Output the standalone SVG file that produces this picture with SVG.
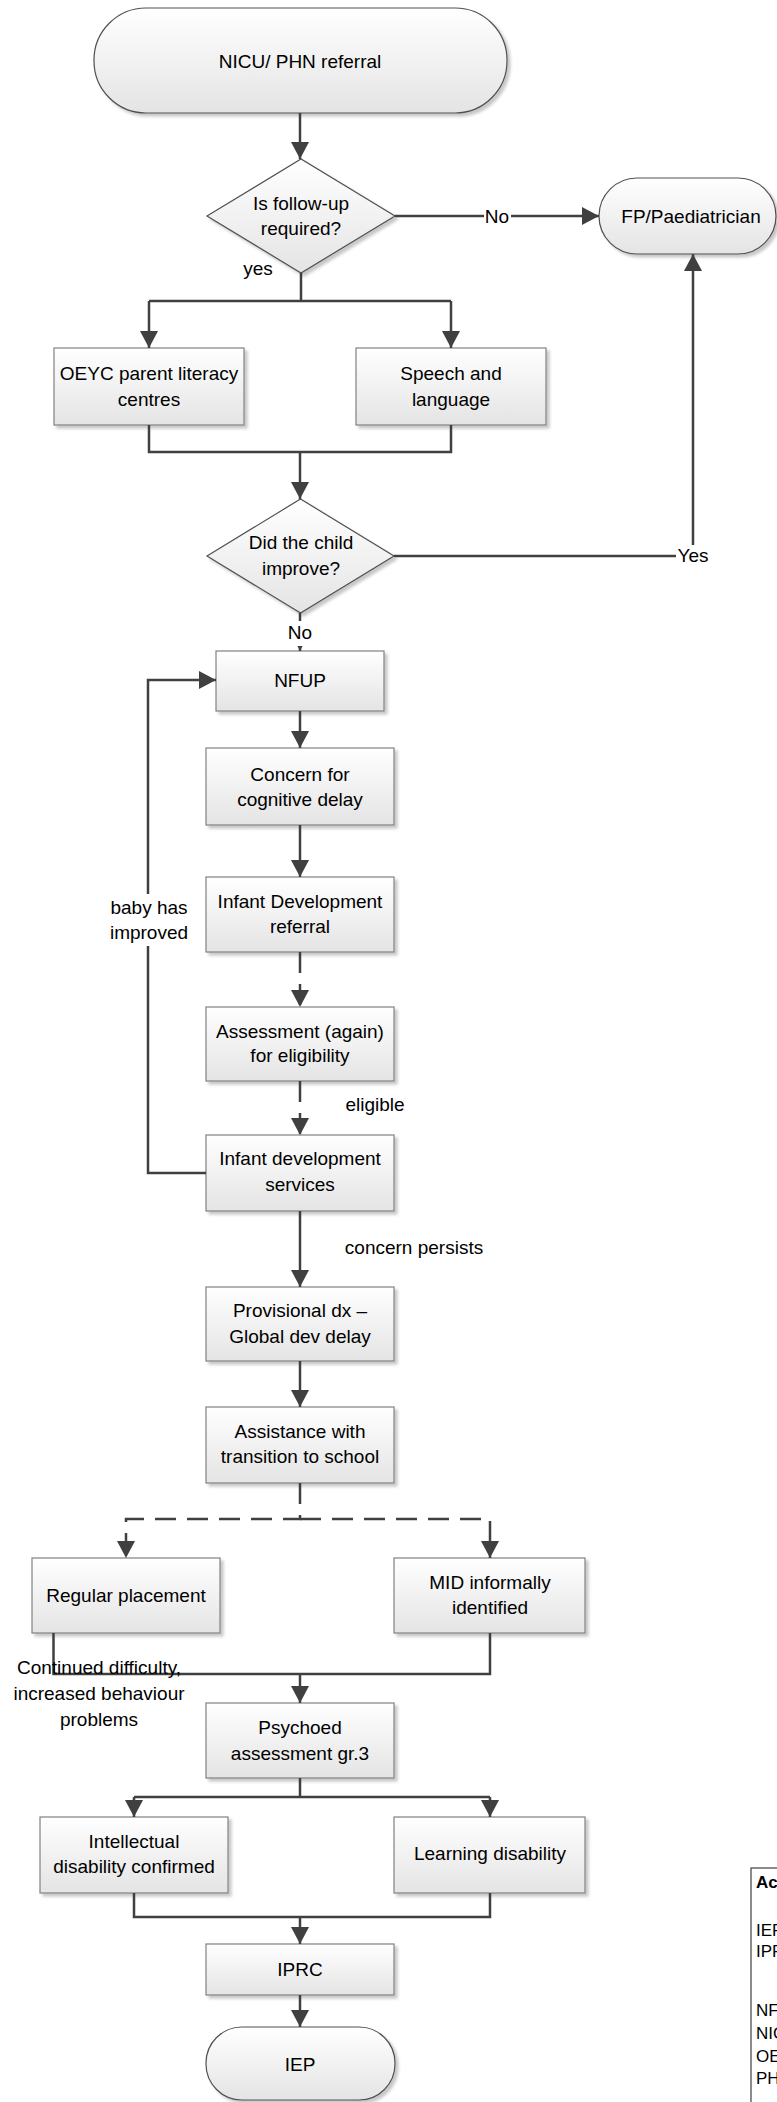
<svg xmlns="http://www.w3.org/2000/svg" width="777" height="2102" viewBox="0 0 777 2102">
<defs>
<linearGradient id="g" x1="0" y1="0" x2="0" y2="1">
<stop offset="0" stop-color="#ffffff"/>
<stop offset="1" stop-color="#e4e4e4"/>
</linearGradient>
<filter id="sh" x="-10%" y="-10%" width="130%" height="140%">
<feDropShadow dx="3" dy="3" stdDeviation="1.5" flood-color="#000" flood-opacity="0.22"/>
</filter>
<marker id="ah" markerUnits="userSpaceOnUse" markerWidth="17" markerHeight="18" refX="17" refY="9" orient="auto">
<path d="M0,0 L17,9 L0,18 z" fill="#404040"/>
</marker>
</defs>
<style>
.box{fill:url(#g);stroke:#808080;stroke-width:1.2;filter:url(#sh)}
.term{fill:url(#g);stroke:#505050;stroke-width:1.2;filter:url(#sh)}
.dia{fill:url(#g);stroke:#505050;stroke-width:1.2;filter:url(#sh)}
.t{font-family:"Liberation Sans",Arial,sans-serif;font-size:19px;text-anchor:middle;fill:#000}
.c{fill:none;stroke:#404040;stroke-width:2.5}
.a{marker-end:url(#ah)}
.d{stroke-dasharray:21 11}
.bg{fill:#fff}
.lg{font-family:"Liberation Sans",Arial,sans-serif;font-size:17px;fill:#000}
</style>
<rect width="777" height="2102" fill="#fff"/>

<g id="start">
<rect class="term" x="94" y="8" width="413" height="105" rx="52" ry="52"/>
<text class="t" x="300" y="68">NICU/ PHN referral</text>
</g>
<g id="followup">
<polygon class="dia" points="207,216 301,159 395,216 301,273"/>
<text class="t" x="301" y="210">Is follow-up</text>
<text class="t" x="301" y="235">required?</text>
</g>
<g id="fp">
<rect class="term" x="599" y="178" width="177" height="76" rx="38" ry="38"/>
<text class="t" x="691" y="223">FP/Paediatrician</text>
</g>
<g id="oeyc">
<rect class="box" x="54" y="348" width="190" height="77"/>
<text class="t" x="149" y="380">OEYC parent literacy</text>
<text class="t" x="149" y="406">centres</text>
</g>
<g id="speech">
<rect class="box" x="356" y="348" width="190" height="77"/>
<text class="t" x="451" y="380">Speech and</text>
<text class="t" x="451" y="406">language</text>
</g>
<g id="improve">
<polygon class="dia" points="207,556 300.5,499 394,556 300.5,613"/>
<text class="t" x="301" y="549">Did the child</text>
<text class="t" x="301" y="575">improve?</text>
</g>
<g id="nfup">
<rect class="box" x="216" y="651" width="168" height="60"/>
<text class="t" x="300" y="687">NFUP</text>
</g>
<g id="concern">
<rect class="box" x="206" y="748" width="188" height="77"/>
<text class="t" x="300" y="781">Concern for</text>
<text class="t" x="300" y="806">cognitive delay</text>
</g>
<g id="idref">
<rect class="box" x="206" y="877" width="188" height="75"/>
<text class="t" x="300" y="908">Infant Development</text>
<text class="t" x="300" y="933">referral</text>
</g>
<g id="assess">
<rect class="box" x="206" y="1007" width="188" height="74"/>
<text class="t" x="300" y="1038">Assessment (again)</text>
<text class="t" x="300" y="1062">for eligibility</text>
</g>
<g id="ids">
<rect class="box" x="206" y="1135" width="188" height="76"/>
<text class="t" x="300" y="1165">Infant development</text>
<text class="t" x="300" y="1191">services</text>
</g>
<g id="prov">
<rect class="box" x="206" y="1287" width="188" height="74"/>
<text class="t" x="300" y="1317">Provisional dx –</text>
<text class="t" x="300" y="1343">Global dev delay</text>
</g>
<g id="assist">
<rect class="box" x="206" y="1407" width="188" height="76"/>
<text class="t" x="300" y="1438">Assistance with</text>
<text class="t" x="300" y="1463">transition to school</text>
</g>
<g id="regular">
<rect class="box" x="32" y="1558" width="188" height="75"/>
<text class="t" x="126" y="1602">Regular placement</text>
</g>
<g id="mid">
<rect class="box" x="394" y="1558" width="191" height="75"/>
<text class="t" x="490" y="1589">MID informally</text>
<text class="t" x="490" y="1614">identified</text>
</g>
<g id="psychoed">
<rect class="box" x="206" y="1703" width="188" height="75"/>
<text class="t" x="300" y="1734">Psychoed</text>
<text class="t" x="300" y="1760">assessment gr.3</text>
</g>
<g id="intellectual">
<rect class="box" x="40" y="1817" width="188" height="76"/>
<text class="t" x="134" y="1848">Intellectual</text>
<text class="t" x="134" y="1873">disability confirmed</text>
</g>
<g id="learning">
<rect class="box" x="394" y="1817" width="191" height="76"/>
<text class="t" x="490" y="1860">Learning disability</text>
</g>
<g id="iprc">
<rect class="box" x="206" y="1944" width="188" height="51"/>
<text class="t" x="300" y="1976">IPRC</text>
</g>
<g id="iep">
<rect class="term" x="206" y="2027" width="189" height="73" rx="36" ry="36"/>
<text class="t" x="300" y="2071">IEP</text>
</g>
<g id="legend">
<rect x="751" y="1868" width="40" height="250" fill="#fff" stroke="#404040" stroke-width="1.2"/>
<text class="lg" x="756" y="1888" font-weight="bold">Ac</text>
<text class="lg" x="756" y="1936">IEP</text>
<text class="lg" x="756" y="1957">IPR</text>
<text class="lg" x="756" y="2016">NF</text>
<text class="lg" x="756" y="2039">NIC</text>
<text class="lg" x="756" y="2062">OE</text>
<text class="lg" x="756" y="2084">PH</text>
</g>

<g id="connectors">
<path class="c a" d="M300,113 V159"/>
<path class="c a" d="M395,216 H599"/>
<path class="c" d="M301,273 V301 M149,301 H451"/>
<path class="c a" d="M149,301 V348"/>
<path class="c a" d="M451,301 V348"/>
<path class="c" d="M149,425 V452 H451 V425"/>
<path class="c a" d="M300,452 V499"/>
<path class="c a" d="M394,556 H693 V254"/>
<path class="c a" d="M300,613 V651"/>
<path class="c a" d="M300,711 V748"/>
<path class="c a" d="M300,825 V877"/>
<path class="c a d" d="M300,952 V1007"/>
<path class="c a d" d="M300,1081 V1135"/>
<path class="c a" d="M206,1173 H148 V680 H216"/>
<path class="c a" d="M300,1211 V1287"/>
<path class="c a" d="M300,1361 V1407"/>
<path class="c a d" d="M300,1483 V1519 H126 V1558"/>
<path class="c a d" d="M300,1519 H490 V1558"/>
<path class="c" d="M53.5,1633 V1674 H490 V1633"/>
<path class="c a" d="M300,1674 V1703"/>
<path class="c" d="M300,1778 V1797 M134,1797 H490"/>
<path class="c a" d="M134,1797 V1817"/>
<path class="c a" d="M490,1797 V1817"/>
<path class="c" d="M134,1893 V1917 H490 V1893"/>
<path class="c a" d="M300,1917 V1944"/>
<path class="c a" d="M300,1995 V2027"/>

<rect class="bg" x="484" y="206" width="27" height="22"/>
<text class="t" x="497" y="223">No</text>
<text class="t" x="258" y="275">yes</text>
<rect class="bg" x="676" y="545" width="34" height="22"/>
<text class="t" x="693" y="562">Yes</text>
<rect class="bg" x="287" y="621" width="26" height="25"/>
<text class="t" x="300" y="639">No</text>
<rect class="bg" x="106" y="894" width="86" height="52"/>
<text class="t" x="149" y="914">baby has</text>
<text class="t" x="149" y="939">improved</text>
<text class="t" x="375" y="1111">eligible</text>
<text class="t" x="414" y="1254">concern persists</text>
<text class="t" x="99" y="1674">Continued difficulty,</text>
<text class="t" x="99" y="1700">increased behaviour</text>
<text class="t" x="99" y="1726">problems</text>
</g>
</svg>
